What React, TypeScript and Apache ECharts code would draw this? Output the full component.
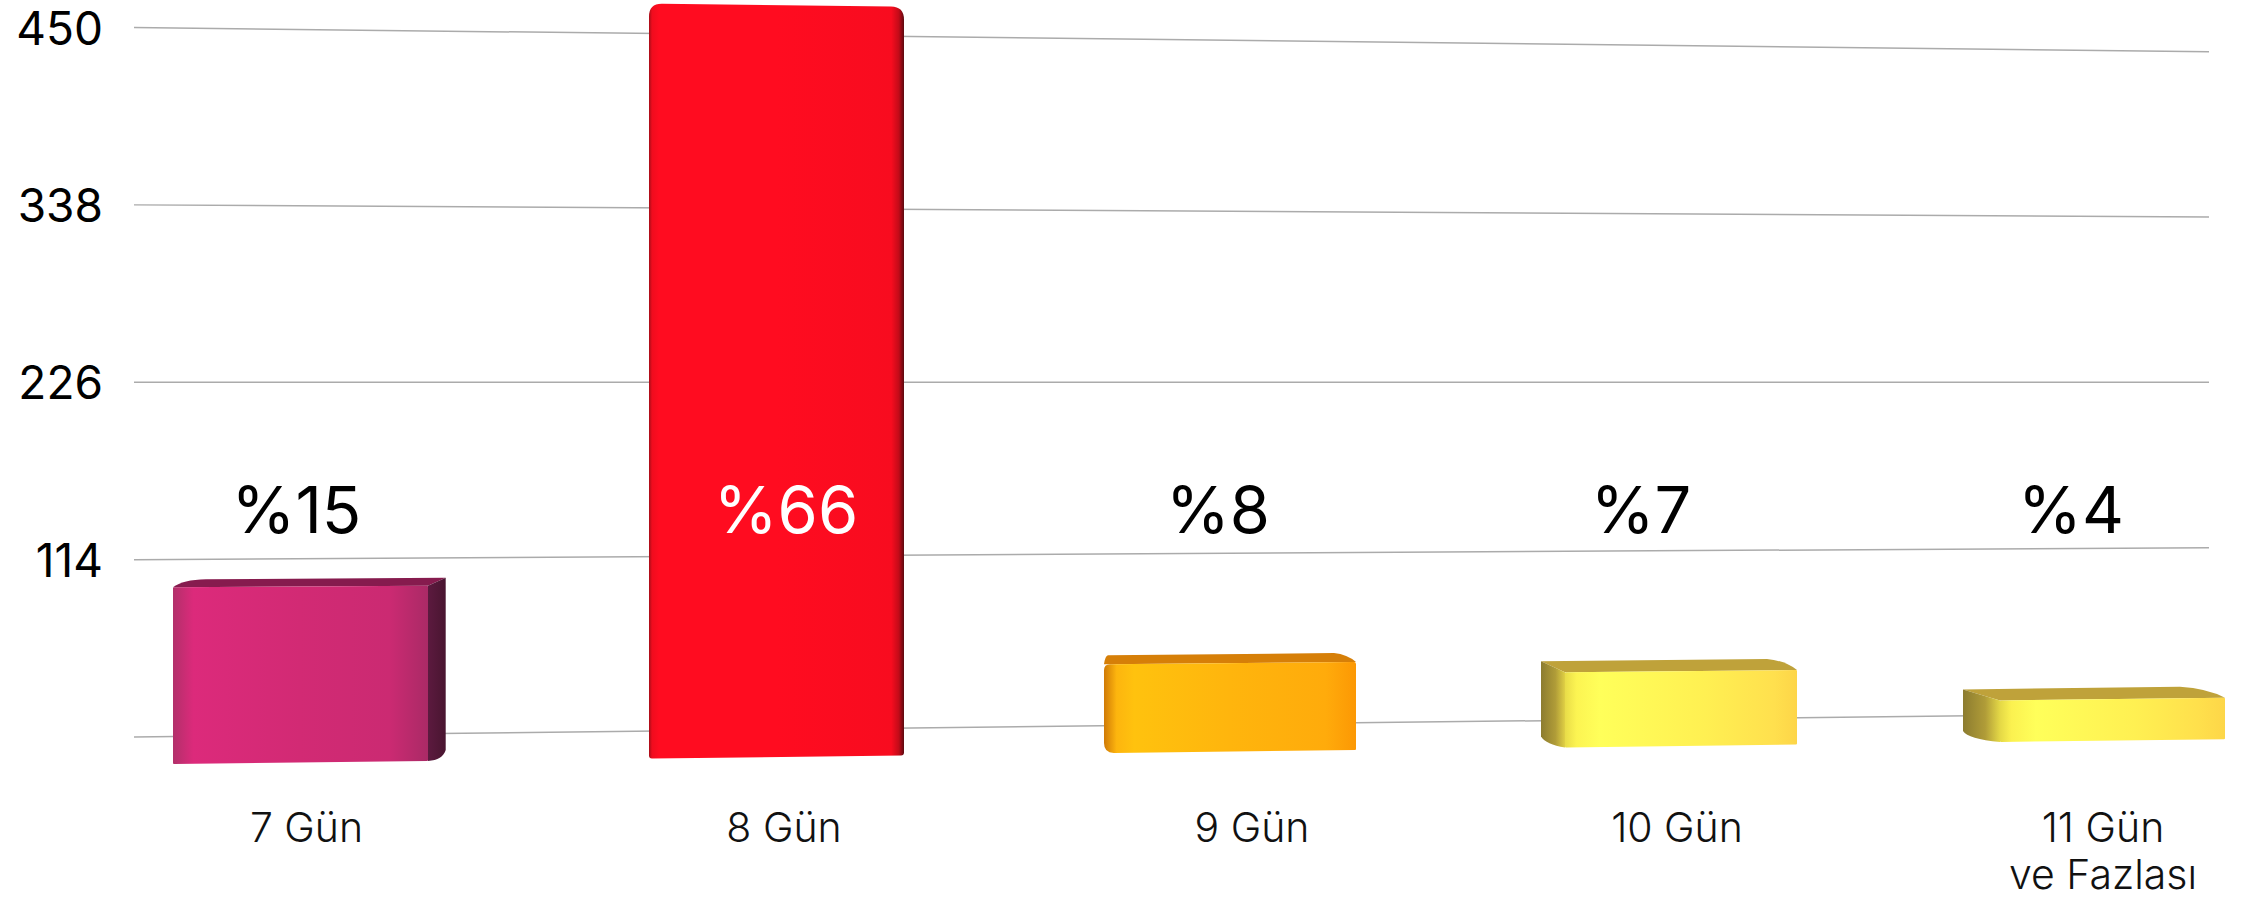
import React, { useEffect, useRef } from "react";
import * as echarts from "echarts";

// Stay length shares and the count axis they sit on
const categories = ["7 Gün", "8 Gün", "9 Gün", "10 Gün", "11 Gün\nve Fazlası"];
const shares = [15, 66, 8, 7, 4];
const totalCount = 680;
const axisMin = 2;
const axisMax = 450;
const gridValues = [2, 114, 226, 338, 450];
const tickLabels = [114, 226, 338, 450];

// Layout of the tilted scene
const FONT = "Inter";
const HORIZON_Y = 383.5;
const FAR_SCALE = 0.932;
const EDGE_CONVERGE = 0.008;
const VALUE_LABEL_Y = 509;
const CATEGORY_LABEL_TOP = 803;
const frontShift = [-41, 20, 58.5, 94.5, 111];
const frontWidth = [255, 255, 252, 232, 225];
const categoryShift = [-35, 27.5, 80.5, 90.5, 101.5];
const valueShift = [-45, 29.5, 46.5, 54.5, 69.5];
const backLeftDx = [33, 0, 4, -24, -37];
const backRightDx = [17.7, 0, -22, -30, -45];
const topDepth = [8, 0, 9, 11, 11];
// corner radii of the front face: top-left, top-right, bottom-right, bottom-left
const frontRadii = [
  [1, 1, 1, 1],
  [13, 13, 3, 3],
  [6, 2, 1, 10],
  [1, 1, 1, 1],
  [1, 1, 1, 1],
];

type Stops = [number, string][];
const frontStops: Stops[] = [
  [[0, "#b2306a"], [0.08, "#dc2a7b"], [0.5, "#d22a74"], [0.85, "#cb2a72"], [1, "#aa2a66"]],
  [[0, "#a50d18"], [0.012, "#f00c1e"], [0.04, "#ff0c20"], [0.5, "#ff0c20"], [0.95, "#f80c1f"], [0.98, "#c20b18"], [1, "#5c0a10"]],
  [[0, "#d07a06"], [0.05, "#fdb50e"], [0.12, "#ffc20e"], [0.5, "#ffb50d"], [0.88, "#ffab0b"], [1, "#fc9804"]],
  [[0, "#e8dc48"], [0.05, "#fcf452"], [0.15, "#ffff5a"], [0.6, "#fff052"], [0.9, "#ffe04e"], [1, "#fdd548"]],
  [[0, "#e4d846"], [0.05, "#fbf150"], [0.16, "#ffff5a"], [0.6, "#fff052"], [0.88, "#ffe04c"], [1, "#fdd648"]],
];
const sideStops: Stops[] = [
  [[0, "#5c1a3f"], [1, "#491530"]],
  [[0, "#5c0a10"], [1, "#5c0a10"]],
  [[0, "#d07a06"], [1, "#d07a06"]],
  [[0, "#8c7c30"], [0.6, "#b09c38"], [1, "#e0d044"]],
  [[0, "#8c7c30"], [0.6, "#b09c38"], [1, "#e4d846"]],
];
const topColors = ["#861b4e", "#ff0c20", "#d67f08", "#bfa23a", "#bfa23a"];

type Pt = [number, number];

// Closed four-corner outline with a separate radius on every corner
function roundedQuad(corners: Pt[], radii: number[]): string {
  const n = corners.length;
  let d = "";
  for (let k = 0; k < n; k++) {
    const p = corners[k];
    const prev = corners[(k + n - 1) % n];
    const next = corners[(k + 1) % n];
    const r = radii[k];
    const toward = (q: Pt): Pt => {
      const len = Math.hypot(q[0] - p[0], q[1] - p[1]) || 1;
      return [p[0] + ((q[0] - p[0]) / len) * r, p[1] + ((q[1] - p[1]) / len) * r];
    };
    const a = toward(prev);
    const b = toward(next);
    d += `${k === 0 ? "M" : "L"}${a[0]} ${a[1]}Q${p[0]} ${p[1]} ${b[0]} ${b[1]}`;
  }
  return d + "Z";
}

const leftToRight = (stops: Stops) =>
  new echarts.graphic.LinearGradient(0, 0, 1, 0, stops.map(([offset, color]) => ({ offset, color })));

const renderGridLine = (params: any, api: any) => {
  const sys = params.coordSys;
  const yLeft = api.coord([0, api.value(0)])[1];
  const yRight = HORIZON_Y + (yLeft - HORIZON_Y) * FAR_SCALE;
  return {
    type: "line",
    shape: { x1: sys.x, y1: yLeft, x2: sys.x + sys.width, y2: yRight },
    style: { stroke: "#ababab", lineWidth: 1.5 },
  };
};

const renderBar = (_params: any, api: any) => {
  const i = api.value(0);
  const share = api.value(1);
  const base = api.coord([i, axisMin]);
  const peak = api.coord([i, axisMin + (share / 100) * totalCount]);
  const xMid = base[0] + frontShift[i];
  const xL = xMid - frontWidth[i] / 2;
  const xR = xMid + frontWidth[i] / 2;
  const yBot = base[1] + 27 - 5.5 * i;
  const yTop = yBot - (base[1] - peak[1]) * (1.094 - 0.032 * i);
  const lean = (y: number) => HORIZON_Y + (y - HORIZON_Y) * (1 - EDGE_CONVERGE);
  const fl: Pt = [xL, yTop];
  const fr: Pt = [xR, lean(yTop)];
  const br: Pt = [xR, lean(yBot)];
  const bl: Pt = [xL, yBot];

  const children: any[] = [];
  const depth = topDepth[i];
  if (depth > 0) {
    const backL: Pt = [xL + backLeftDx[i], yTop - depth];
    const backR: Pt = [xR + backRightDx[i], fr[1] - depth];
    // The edge shared with a side face stays straight so the two faces meet without a gap
    const leftEdge =
      backLeftDx[i] < 0
        ? `L${backL[0]} ${backL[1]}`
        : `Q${fl[0] + backLeftDx[i] * 0.3} ${backL[1] + 0.5} ${backL[0]} ${backL[1]}`;
    const rightEdge =
      backRightDx[i] > 0
        ? `L${fr[0]} ${fr[1]}`
        : `Q${backR[0] + (fr[0] - backR[0]) * 0.6} ${backR[1] + depth * 0.15} ${fr[0]} ${fr[1]}`;
    const d = `M${fl[0]} ${fl[1]}${leftEdge}L${backR[0]} ${backR[1]}${rightEdge}Z`;
    children.push({ type: "path", shape: { pathData: d }, style: { fill: topColors[i] } });
  }
  if (backRightDx[i] > 0) {
    const x = xR + backRightDx[i];
    const d =
      `M${fr[0]} ${fr[1]}L${x} ${fr[1] - depth}L${x} ${br[1] - 11}` +
      `Q${x - 3} ${br[1] - 1} ${br[0]} ${br[1]}Z`;
    children.push({ type: "path", shape: { pathData: d }, style: { fill: leftToRight(sideStops[i]) } });
  }
  if (backLeftDx[i] < 0) {
    const x = xL + backLeftDx[i];
    const d =
      `M${fl[0]} ${fl[1]}L${x} ${fl[1] - depth}L${x} ${bl[1] - 11}` +
      `Q${x + 5} ${bl[1] - 3} ${bl[0]} ${bl[1]}Z`;
    children.push({ type: "path", shape: { pathData: d }, style: { fill: leftToRight(sideStops[i]) } });
  }
  children.push({
    type: "path",
    shape: { pathData: roundedQuad([fl, fr, br, bl], frontRadii[i]) },
    style: { fill: leftToRight(frontStops[i]) },
  });
  return { type: "group", children };
};

const renderValueLabel = (_params: any, api: any) => {
  const i = api.value(0);
  return {
    type: "text",
    style: {
      text: `%${api.value(1)}`,
      x: api.coord([i, axisMin])[0] + valueShift[i],
      y: VALUE_LABEL_Y,
      align: "center",
      verticalAlign: "middle",
      fontFamily: FONT,
      fontSize: 65,
      fontWeight: 400,
      fill: i === 1 ? "#ffffff" : "#000000",
    },
  };
};

const renderCategoryLabel = (_params: any, api: any) => {
  const i = api.value(0);
  return {
    type: "text",
    style: {
      text: categories[i],
      x: api.coord([i, axisMin])[0] + categoryShift[i],
      y: CATEGORY_LABEL_TOP,
      align: "center",
      verticalAlign: "top",
      lineHeight: 47,
      fontFamily: FONT,
      fontSize: 41,
      fontWeight: 300,
      fill: "#111111",
    },
  };
};

export default function App() {
  const ref = useRef<HTMLDivElement>(null);

  useEffect(() => {
    const chart = echarts.init(ref.current!, null, { renderer: "svg" });
    const barData = shares.map((s, i) => [i, s]);
    chart.setOption({
      animation: false,
      backgroundColor: "#ffffff",
      grid: { left: 134, right: 43, top: 27.5, bottom: 160 },
      xAxis: {
        type: "category",
        data: categories,
        axisLine: { show: false },
        axisTick: { show: false },
        axisLabel: { show: false },
      },
      yAxis: {
        type: "value",
        min: axisMin,
        max: axisMax,
        splitLine: { show: false },
        axisLine: { show: false },
        axisTick: { show: false },
        axisLabel: {
          customValues: tickLabels,
          margin: 31,
          fontFamily: FONT,
          fontSize: 46,
          fontWeight: 400,
          color: "#000000",
        },
      },
      series: [
        { type: "custom", silent: true, z: 1, data: gridValues.map((v) => [v]), encode: { y: 0 }, renderItem: renderGridLine },
        { type: "custom", silent: true, z: 2, data: barData, renderItem: renderBar },
        { type: "custom", silent: true, z: 3, data: barData, renderItem: renderValueLabel },
        { type: "custom", silent: true, z: 3, data: barData, renderItem: renderCategoryLabel },
      ],
    });
    return () => chart.dispose();
  }, []);

  return <div ref={ref} style={{ position: "absolute", left: 0, top: 0, width: 2252, height: 897 }} />;
}
